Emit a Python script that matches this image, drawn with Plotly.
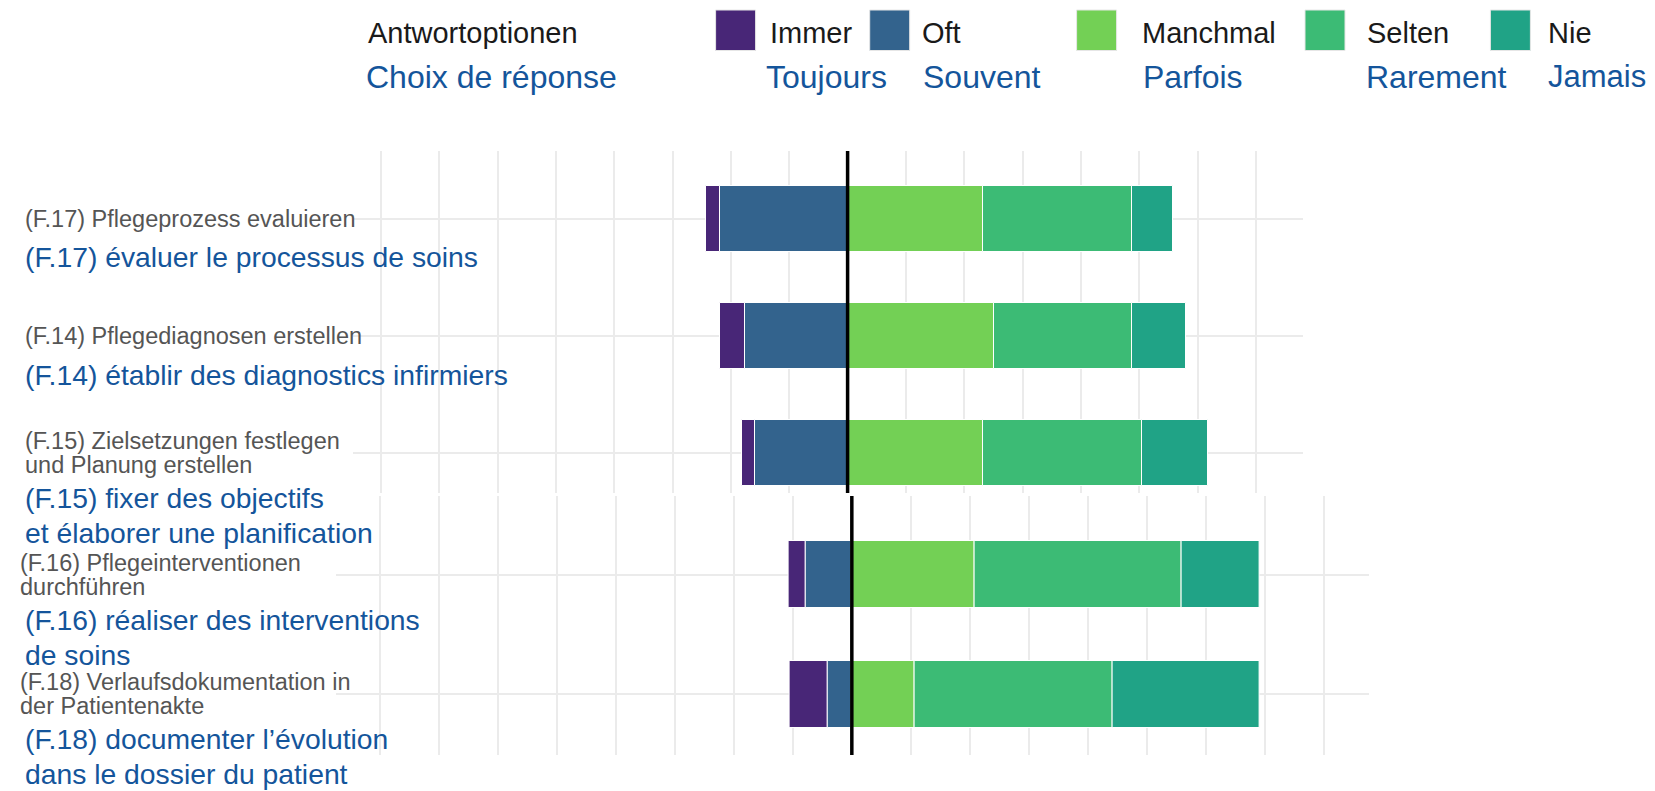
import plotly.graph_objects as go

# Zusammengesetzte Abbildung: oben F.17/F.14/F.15, unten F.16/F.18
kategorien = ["F.17", "F.14", "F.15", "F.16", "F.18"]
teilbild = [1, 1, 1, 2, 2]

# Anteile in Prozent
immer = [3.1, 5.4, 2.8, 3.4, 8.0]
oft = [27.3, 21.9, 19.8, 9.9, 5.1]
manchmal = [29.1, 31.4, 29.1, 26.1, 13.4]
selten = [31.9, 29.6, 33.9, 43.8, 41.8]
nie = [8.7, 11.6, 14.3, 16.6, 31.3]

labels_de = [
    ["(F.17) Pflegeprozess evaluieren"],
    ["(F.14) Pflegediagnosen erstellen"],
    ["(F.15) Zielsetzungen festlegen", "und Planung erstellen"],
    ["(F.16) Pflegeinterventionen", "durchführen"],
    ["(F.18) Verlaufsdokumentation in", "der Patientenakte"],
]
labels_fr = [
    ["(F.17) évaluer le processus de soins"],
    ["(F.14) établir des diagnostics infirmiers"],
    ["(F.15) fixer des objectifs", "et élaborer une planification"],
    ["(F.16) réaliser des interventions", "de soins"],
    ["(F.18) documenter l’évolution", "dans le dossier du patient"],
]

optionen_de = ["Immer", "Oft", "Manchmal", "Selten", "Nie"]
optionen_fr = ["Toujours", "Souvent", "Parfois", "Rarement", "Jamais"]
farben = ["#482677", "#33638D", "#73D055", "#3CBB75", "#20A386"]

# die Seite hat 8px Rand, daher etwas kleinere Figur
RAND = 8
W, H = 1655 - RAND, 791 - RAND
FONT = "Liberation Sans, Arial, sans-serif"
BLAU = "#14559B"
GRID = "#EBEBEB"


def px(x):
    return (x - RAND) / W


def py(y):
    return 1 - (y - RAND) / H


werte = dict(zip(optionen_de, [immer, oft, manchmal, selten, nie]))
farbe = dict(zip(optionen_de, farben))

fig = go.Figure()

# Balken: negative Seite Oft (innen) und Immer (aussen), positive Seite Manchmal, Selten, Nie
for nr, (xa, ya) in [(1, ("x", "y")), (2, ("x2", "y2"))]:
    idx = [i for i, t in enumerate(teilbild) if t == nr]
    for name in ["Oft", "Immer", "Manchmal", "Selten", "Nie"]:
        vorzeichen = -1 if name in ("Immer", "Oft") else 1
        fig.add_trace(go.Bar(
            y=[kategorien[i] for i in idx],
            x=[vorzeichen * werte[name][i] for i in idx],
            name=name,
            orientation="h",
            width=0.56,
            marker=dict(color=farbe[name], line=dict(color="white", width=1)),
            xaxis=xa, yaxis=ya,
            showlegend=False,
            hovertemplate=name + ": %{customdata}%<extra></extra>",
            customdata=[werte[name][i] for i in idx],
        ))

achse_x = dict(dtick=12.5, tick0=0, showgrid=True, gridcolor=GRID, gridwidth=2,
               showticklabels=False, zeroline=False, ticks="", showline=False)
achse_y = dict(type="category", categoryorder="array", showgrid=True, gridcolor=GRID,
               gridwidth=2, showticklabels=False, zeroline=False, ticks="", showline=False)

fig.update_layout(
    width=W, height=H,
    margin=dict(l=0, r=0, t=0, b=0),
    barmode="relative",
    bargap=0,
    plot_bgcolor="white",
    paper_bgcolor="white",
    font=dict(family=FONT),
    xaxis=dict(achse_x, domain=[px(353), px(1303)], range=[-106, 97.6], anchor="y"),
    yaxis=dict(achse_y, domain=[py(493), py(151)], categoryarray=kategorien[:3],
               range=[2.34, -0.58], anchor="x"),
    xaxis2=dict(achse_x, domain=[px(335.6), px(1369)], range=[-109.4, 109.6], anchor="y2"),
    yaxis2=dict(achse_y, domain=[py(755), py(496)], categoryarray=kategorien[3:],
                range=[1.51, -0.66], anchor="x2"),
)

# schwarze Nulllinie in beiden Teilbildern
for xr, yr in [("x", "y domain"), ("x2", "y2 domain")]:
    fig.add_shape(type="line", xref=xr, yref=yr, x0=0, x1=0, y0=0, y1=1,
                  line=dict(color="black", width=3.5), layer="above")

# Beschriftungen links (deutsch grau, franzoesisch blau)
for i, kat in enumerate(kategorien):
    yref = "y" if teilbild[i] == 1 else "y2"
    x_de = 23 if teilbild[i] == 1 else 18
    zwei = len(labels_de[i]) > 1
    de_offsets = [-12, 12] if zwei else [0]
    fr_offsets = [45, 80] if zwei else [38.5]
    for txt, off in zip(labels_de[i], de_offsets):
        fig.add_annotation(x=px(x_de), xref="paper", y=kat, yref=yref, yshift=-off,
                           text=txt, showarrow=False, xanchor="left", yanchor="middle",
                           font=dict(size=23.5, color="#555555"))
    for txt, off in zip(labels_fr[i], fr_offsets):
        fig.add_annotation(x=px(23), xref="paper", y=kat, yref=yref, yshift=-off,
                           text=txt, showarrow=False, xanchor="left", yanchor="middle",
                           font=dict(size=28.3, color=BLAU))

# Legende (Antwortoptionen / Choix de réponse)
fig.add_annotation(x=px(366), y=py(32.7), xref="paper", yref="paper", text="Antwortoptionen",
                   showarrow=False, xanchor="left", yanchor="middle",
                   font=dict(size=29, color="#1A1A1A"))
fig.add_annotation(x=px(364), y=py(77), xref="paper", yref="paper", text="Choix de réponse",
                   showarrow=False, xanchor="left", yanchor="middle",
                   font=dict(size=32, color=BLAU))

kasten_x = [715.6, 869.7, 1076.6, 1305, 1490.4]
text_de_x = [768.4, 920, 1140, 1364.8, 1546]
text_fr_x = [764, 921.5, 1141, 1363.7, 1546]
for k in range(len(optionen_de)):
    fig.add_shape(type="rect", xref="paper", yref="paper",
                  x0=px(kasten_x[k]), x1=px(kasten_x[k] + 40), y0=py(50.5), y1=py(10),
                  fillcolor=farben[k], line=dict(color="#E6E6E6", width=1))
    fig.add_annotation(x=px(text_de_x[k]), y=py(32.7), xref="paper", yref="paper",
                       text=optionen_de[k], showarrow=False, xanchor="left", yanchor="middle",
                       font=dict(size=29, color="#1A1A1A"))
    fig.add_annotation(x=px(text_fr_x[k]), y=py(77), xref="paper", yref="paper",
                       text=optionen_fr[k], showarrow=False, xanchor="left", yanchor="middle",
                       font=dict(size=31 if k == 4 else 32, color=BLAU))

fig.write_html("out.html")
